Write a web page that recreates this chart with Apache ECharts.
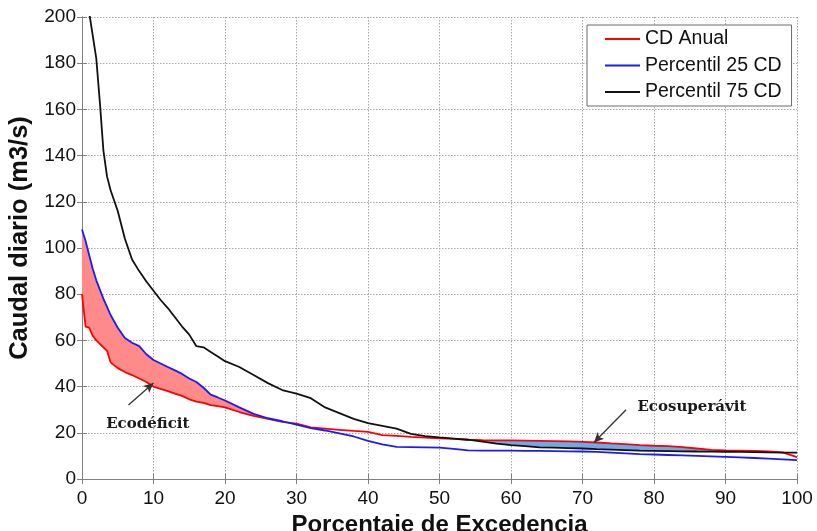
<!DOCTYPE html>
<html>
<head>
<meta charset="utf-8">
<script src="https://cdn.jsdelivr.net/npm/echarts@6/dist/echarts.min.js"></script>
<style>
  html, body { margin: 0; padding: 0; background: #fff; }
  #chart { width: 817px; height: 531px; }
</style>
</head>
<body>
<div id="chart"></div>
<script>
// Porcentaje de excedencia (%)
const pctExc = [0, 0.5, 1, 1.5, 2, 2.5, 3, 3.5, 4, 5, 6, 7, 8, 9, 10, 11, 12, 13, 14, 15, 16, 17, 18, 19, 20,
  22, 24, 26, 28, 30, 32, 34, 36, 38, 40, 42, 44, 46, 48, 50, 52, 54, 56, 58, 60,
  62, 64, 66, 68, 70, 72, 74, 76, 78, 80, 82, 84, 86, 88, 90, 92, 94, 96, 98, 100];

// Curva de duración anual (m3/s)
const cdAnual = [80, 66, 65.5, 62, 60, 58.5, 57, 55.5, 50.5, 48, 46.3, 45, 43.5, 42, 40, 39, 38, 37, 36, 34.5, 33.5, 33, 32, 31.5, 31,
  29, 27.3, 26, 24.7, 24, 22.3, 21.8, 21.3, 20.8, 20.4, 19, 18.7, 18.2, 17.9, 17.6, 17.4, 17, 16.8, 16.7, 16.7,
  16.6, 16.5, 16.4, 16.3, 16.1, 15.8, 15.4, 15.1, 14.7, 14.4, 14.2, 13.8, 13.2, 12.6, 12.4, 12.3, 12.2, 12.0, 11.5, 9.5];

// Percentil 25 de las curvas de duración (m3/s)
const p25 = [108, 103, 97, 91, 86, 82, 78, 74.5, 71, 65.5, 61, 59, 57.5, 54, 51.5, 50, 48.5, 47, 45.5, 43.5, 42, 39.5, 36.5, 35.3, 34,
  31, 28.2, 26.3, 25, 23.5, 22, 21, 19.8, 18.4, 16.5, 15, 13.9, 13.8, 13.7, 13.6, 13, 12.4, 12.3, 12.3, 12.3,
  12.2, 12.2, 12.1, 12.0, 11.9, 11.7, 11.4, 11.1, 10.8, 10.6, 10.4, 10.2, 10.0, 9.8, 9.6, 9.4, 9.1, 8.8, 8.5, 8.2];

// Percentil 75 de las curvas de duración (m3/s)
const p75 = [225, 212, 202, 192, 182, 163, 142, 131, 125, 116, 104, 95, 90, 85.5, 81.5, 77.5, 74, 70, 66, 62.5, 57.5, 57, 55, 53, 51,
  48.5, 45, 41.5, 38.5, 37, 35, 31, 28.5, 26, 24.2, 23, 21.8, 19.5, 18.6, 18, 17.5, 17, 16.2, 15.3, 14.7,
  14.2, 13.7, 13.6, 13.4, 13.2, 12.9, 12.7, 12.5, 12.3, 12.2, 12.1, 12.0, 11.9, 11.85, 11.8, 11.7, 11.6, 11.5, 11.45, 11.4];

const xTicks = { min: 0, max: 100, interval: 10 };
const yTicks = { min: 0, max: 200, interval: 20 };

const FONT = 'Liberation Sans, Arial, sans-serif';
const SERIF = 'DejaVu Serif, serif';

// Split the area between two curves into polygons wherever top > bottom,
// interpolating the crossing points.
function bandPolygons(xs, top, bottom) {
  const polys = [];
  let cur = null;
  for (let i = 0; i < xs.length; i++) {
    const d = top[i] - bottom[i];
    if (i > 0) {
      const dPrev = top[i - 1] - bottom[i - 1];
      if ((dPrev > 0) !== (d > 0) && dPrev !== d) {
        const t = dPrev / (dPrev - d);
        const xc = xs[i - 1] + t * (xs[i] - xs[i - 1]);
        const yc = bottom[i - 1] + t * (bottom[i] - bottom[i - 1]);
        if (cur) { cur.push({ x: xc, t: yc, b: yc }); polys.push(cur); cur = null; }
        else { cur = [{ x: xc, t: yc, b: yc }]; }
      }
    }
    if (d > 0) {
      if (!cur) cur = [];
      cur.push({ x: xs[i], t: top[i], b: bottom[i] });
    }
  }
  if (cur) polys.push(cur);
  return polys;
}

function bandSeries(name, top, bottom, color) {
  const polys = bandPolygons(pctExc, top, bottom);
  return {
    type: 'custom',
    name: name,
    silent: true,
    z: 1,
    data: [[0, 0]],
    renderItem: function (params, api) {
      const children = polys.map(function (poly) {
        const pts = poly.map(p => api.coord([p.x, p.t]))
          .concat(poly.slice().reverse().map(p => api.coord([p.x, p.b])));
        return { type: 'polygon', shape: { points: pts }, style: { fill: color } };
      });
      return { type: 'group', children: children };
    }
  };
}

const gridLine = { show: true, lineStyle: { color: '#a8a8a8', type: [1.5, 1.5], width: 1 } };
const frameLine = { show: true, lineStyle: { color: '#808080', width: 1 } };
const tickIn = { show: true, inside: true, length: 5, lineStyle: { color: '#808080' } };

const chart = echarts.init(document.getElementById('chart'));
chart.setOption({
  animation: false,
  backgroundColor: '#ffffff',
  grid: { left: 82, right: 20, top: 17, bottom: 52, outerBoundsMode: 'none', containLabel: false },
  legend: {
    orient: 'vertical',
    left: 587,
    top: 25,
    padding: [4, 10, 4, 18],
    itemGap: 6.5,
    itemWidth: 35,
    itemHeight: 2,
    icon: 'rect',
    backgroundColor: '#ffffff',
    borderColor: '#6a6a6a',
    borderWidth: 1,
    textStyle: { fontFamily: FONT, fontSize: 19.5, color: '#111' },
    data: ['CD Anual', 'Percentil 25 CD', 'Percentil 75 CD']
  },
  xAxis: [
    {
      type: 'value', min: xTicks.min, max: xTicks.max, interval: xTicks.interval,
      name: 'Porcentaje de Excedencia', nameLocation: 'middle', nameGap: 31,
      nameTextStyle: { fontFamily: FONT, fontSize: 24, fontWeight: 'bold', color: '#111' },
      axisLine: frameLine, axisTick: tickIn, splitLine: gridLine,
      axisLabel: { fontFamily: FONT, fontSize: 19, color: '#111', margin: 10 }
    },
    {
      type: 'value', position: 'top', min: xTicks.min, max: xTicks.max, interval: xTicks.interval,
      axisLine: frameLine, axisTick: tickIn, splitLine: { show: false }, axisLabel: { show: false }
    }
  ],
  yAxis: [
    {
      type: 'value', min: yTicks.min, max: yTicks.max, interval: yTicks.interval,
      name: 'Caudal diario (m3/s)', nameLocation: 'middle', nameGap: 44,
      nameTextStyle: { fontFamily: FONT, fontSize: 25.5, fontWeight: 'bold', color: '#111', padding: [0, 0, 0, 20] },
      axisLine: frameLine, axisTick: tickIn, splitLine: gridLine,
      axisLabel: { fontFamily: FONT, fontSize: 19, color: '#111', margin: 6 }
    },
    {
      type: 'value', position: 'right', min: yTicks.min, max: yTicks.max, interval: yTicks.interval,
      axisLine: frameLine, axisTick: tickIn, splitLine: { show: false }, axisLabel: { show: false }
    }
  ],
  series: [
    bandSeries('Ecodéficit', p25, cdAnual, '#ff8a8a'),
    bandSeries('Ecosuperávit', cdAnual, p75, '#6fa9e6'),
    {
      type: 'line', name: 'CD Anual', z: 3,
      data: pctExc.map((x, i) => [x, cdAnual[i]]),
      showSymbol: false, symbol: 'none',
      lineStyle: { color: '#ff0000', width: 1.8 }, itemStyle: { color: '#ff0000' },
      markLine: {
        silent: true, symbol: ['none', 'arrow'], symbolSize: [7, 10],
        label: { show: false },
        lineStyle: { color: '#333333', width: 1.3, type: 'solid' },
        data: [
          [{ coord: [6.5, 32] }, { coord: [10, 41.6] }],
          [{ coord: [76.1, 30] }, { coord: [71.6, 15.8] }]
        ]
      },
      markPoint: {
        silent: true, symbol: 'circle', symbolSize: 0,
        label: {
          show: true, position: 'inside', fontFamily: SERIF, fontWeight: 'bold',
          fontSize: 15, color: '#1a1a1a'
        },
        data: [
          { coord: [9.2, 23.8], value: 'Ecodéficit', label: { formatter: 'Ecodéficit' } },
          { coord: [85.3, 31.3], value: 'Ecosuperávit', label: { formatter: 'Ecosuperávit' } }
        ]
      }
    },
    {
      type: 'line', name: 'Percentil 25 CD', z: 4,
      data: pctExc.map((x, i) => [x, p25[i]]),
      showSymbol: false, symbol: 'none',
      lineStyle: { color: '#1a1aff', width: 1.8 }, itemStyle: { color: '#1a1aff' }
    },
    {
      type: 'line', name: 'Percentil 75 CD', z: 5,
      data: pctExc.map((x, i) => [x, p75[i]]),
      showSymbol: false, symbol: 'none',
      lineStyle: { color: '#111111', width: 1.8 }, itemStyle: { color: '#111111' }
    }
  ]
});
</script>
</body>
</html>
